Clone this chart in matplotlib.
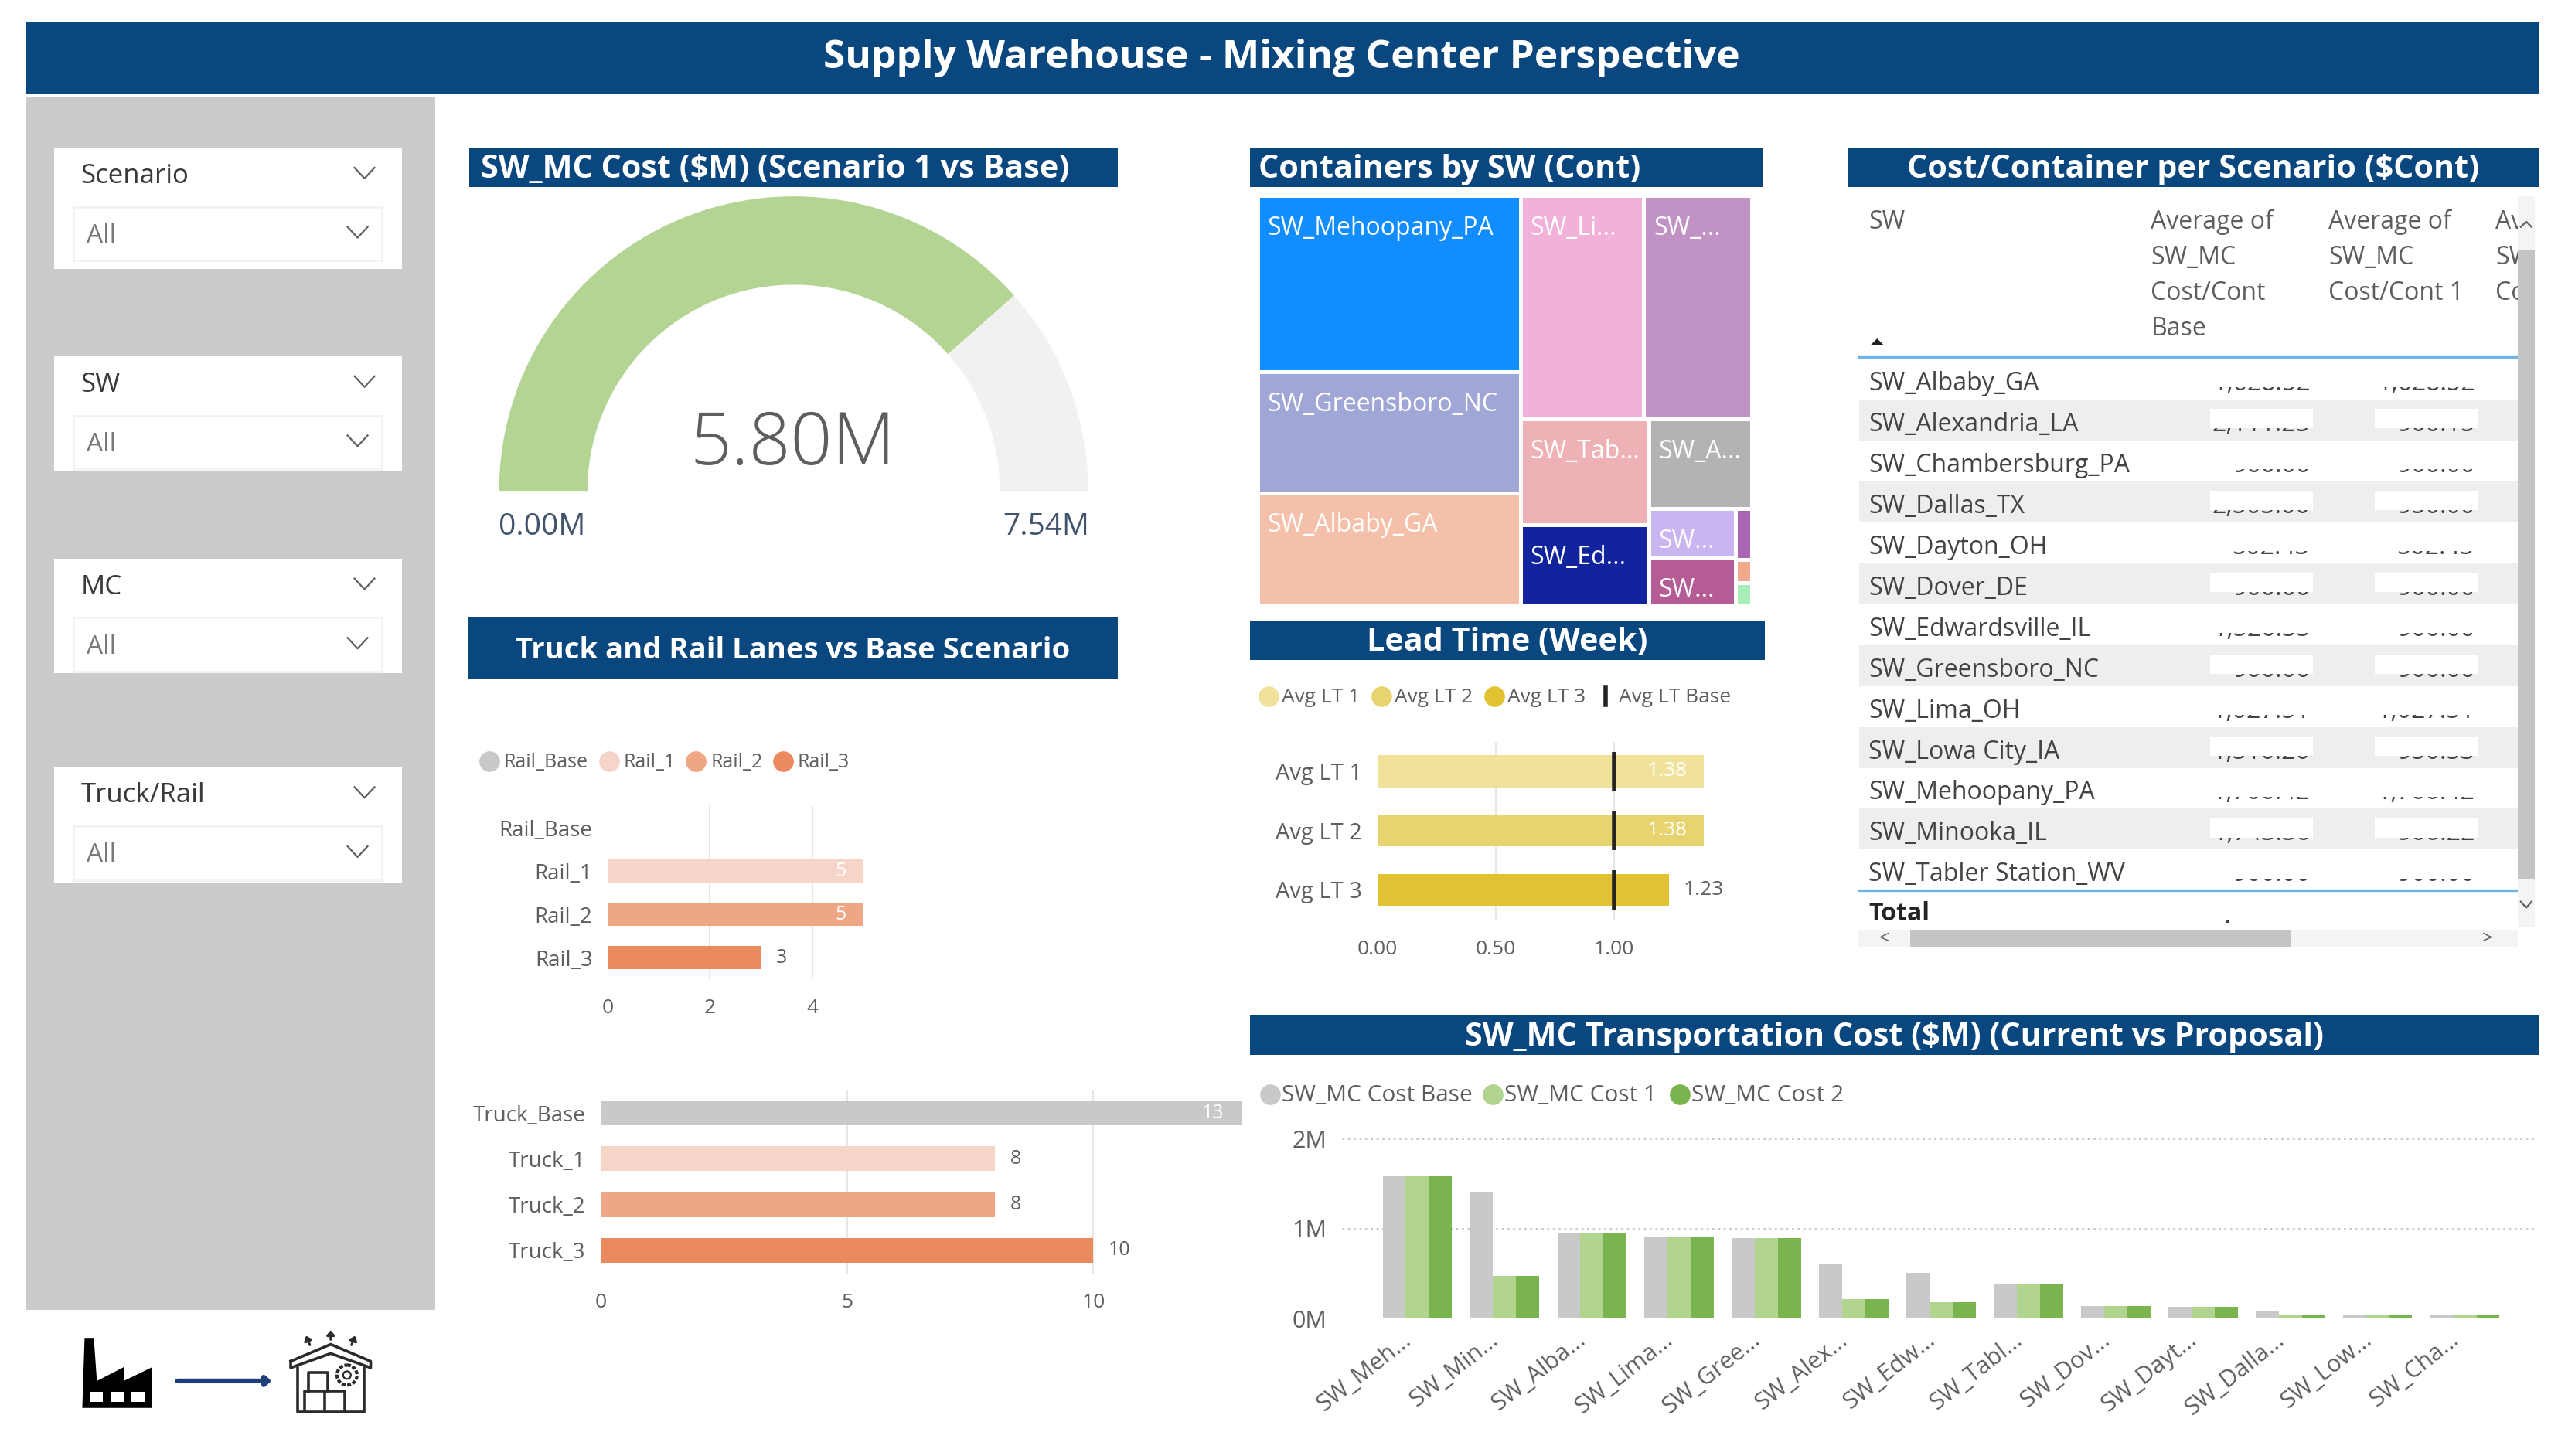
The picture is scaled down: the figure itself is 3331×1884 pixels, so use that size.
#!/usr/bin/env python3
import matplotlib
matplotlib.use("Agg")
import matplotlib.pyplot as plt
from matplotlib.patches import Rectangle, Polygon, Circle

plt.rcParams['font.family'] = ['Open Sans', 'DejaVu Sans']

W, H = 3331, 1884
# layout below was measured on a slightly smaller view of the reference
VW, VH = W / 0.9948, H / 0.9955

# gauge
gauge_value = 5.80
gauge_max = 7.54

# rail / truck lanes
rail_labels = ["Rail_Base", "Rail_1", "Rail_2", "Rail_3"]
rail_values = [0, 5, 5, 3]
truck_labels = ["Truck_Base", "Truck_1", "Truck_2", "Truck_3"]
truck_values = [13, 8, 8, 10]

# lead time
lt_labels = ["Avg LT 1", "Avg LT 2", "Avg LT 3"]
lt_values = [1.38, 1.38, 1.23]
lt_base = 1.0

# treemap, sorted by size
tree_values = [731, 503, 470, 436, 380, 214, 165, 146, 67, 66, 13, 6, 6]
tree_labels = ["SW_Mehoopany_PA", "SW_Greensboro_NC", "SW_Albaby_GA", "SW_Li...", "SW_...",
               "SW_Tab...", "SW_Ed...", "SW_A...", "SW...", "SW...", "", "", ""]
tree_colors = ["#118DFF", "#A0A6D6", "#F4C0AA", "#F2B1D9", "#C093C4", "#EEB1B5", "#12239E",
               "#B3B3B6", "#C9B5EF", "#B55B96", "#A866B0", "#F4A98E", "#A9EDB8"]
tree_strips = [3, 2, 2, 1, 2, 1, 1, 1]

# table
table_sw = ["SW_Albaby_GA", "SW_Alexandria_LA", "SW_Chambersburg_PA", "SW_Dallas_TX", "SW_Dayton_OH",
            "SW_Dover_DE", "SW_Edwardsville_IL", "SW_Greensboro_NC", "SW_Lima_OH", "SW_Lowa City_IA",
            "SW_Mehoopany_PA", "SW_Minooka_IL", "SW_Tabler Station_WV"]
table_base = ["1,628.52", "2,111.23", "900.00", "2,505.00", "502.43", "900.00", "1,520.35",
              "900.00", "1,027.51", "1,510.20", "1,700.42", "1,743.36", "900.00"]
table_cost1 = ["1,628.52", "900.15", "900.00", "950.00", "502.43", "900.00", "900.00",
               "900.00", "1,027.51", "950.53", "1,700.42", "900.22", "900.00"]
total_base = "1,200.41"
total_cost1 = "955.17"

# transport cost, $M
cost_labels = ["SW_Meh...", "SW_Min...", "SW_Alba...", "SW_Lima...", "SW_Gree...", "SW_Alex...", "SW_Edw...",
               "SW_Tabl...", "SW_Dov...", "SW_Dayt...", "SW_Dalla...", "SW_Low...", "SW_Cha..."]
cost_base = [1.58, 1.41, 0.945, 0.908, 0.896, 0.61, 0.513, 0.39, 0.136, 0.13, 0.088, 0.04, 0.04]
cost_1 = [1.58, 0.477, 0.945, 0.908, 0.896, 0.213, 0.179, 0.39, 0.136, 0.13, 0.043, 0.04, 0.04]
cost_2 = [1.58, 0.477, 0.945, 0.908, 0.896, 0.213, 0.179, 0.39, 0.136, 0.13, 0.043, 0.04, 0.04]

slicers = ["Scenario", "SW", "MC", "Truck/Rail"]

NAVY = "#0A477F"
GREY = "#CBCBCB"
TXT = "#605E5C"
ORANGES = ["#C9C9C9", "#F6D5C8", "#EFA685", "#EB895F"]
YELLOWS = ["#F1E29B", "#E8D46E", "#E1C233"]
GREENS = ["#C9C9C9", "#B1D48F", "#7AB44E"]

fig = plt.figure(figsize=(W / 100, H / 100), dpi=100)
bg = fig.add_axes([0, 0, 1, 1])
bg.set_xlim(0, VW)
bg.set_ylim(VH, 0)
bg.axis("off")


def box(x0, y0, x1, y1, color, ec="none", lw=0, z=1):
    bg.add_patch(Rectangle((x0, y0), x1 - x0, y1 - y0, fc=color, ec=ec, lw=lw, zorder=z))


def label(x, y, s, size, color=TXT, ha="left", weight="normal", z=3, **kw):
    return bg.text(x, y, s, fontsize=size, color=color, ha=ha, va="center", fontweight=weight, zorder=z, **kw)


def px_axes(x0, y0, x1, y1):
    ax = fig.add_axes([x0 / VW, 1 - y1 / VH, (x1 - x0) / VW, (y1 - y0) / VH])
    ax.patch.set_alpha(0)
    return ax


def header(x0, y0, x1, y1, s, size=29.7, left=None):
    box(x0, y0, x1, y1, NAVY)
    if left is None:
        label((x0 + x1) / 2, (y0 + y1) / 2 + 3, s, size, "white", "center", "bold")
    else:
        label(left, (y0 + y1) / 2 + 3, s, size, "white", "left", "bold")


def chevron(x, y, c="#605E5C"):
    bg.plot([x - 13, x, x + 13], [y - 7, y + 7, y - 7], color=c, lw=1.6, zorder=3)


def legend_row(y, items, size):
    for cx, tx, s, c in items:
        if c == "bar":
            bg.plot([cx, cx], [y - 11, y + 11], color="#252423", lw=4, zorder=3)
        else:
            bg.scatter([cx], [y], s=370, color=c, zorder=3, lw=0)
        label(tx, y + 2, s, size)


def hbars(rect, labels, values, colors, xmax, xticks, pad, size=20, tick=19, fmt="{:g}", white_over=None, height=0.54):
    ax = px_axes(*rect)
    rows = range(len(labels))
    ax.barh(rows, values, height=height, color=colors, zorder=2)
    ax.set_ylim(len(labels) - 0.5, -0.5)
    ax.set_xlim(0, xmax)
    ax.set_xticks(xticks)
    ax.set_xticklabels([fmt.format(t) for t in xticks])
    ax.set_yticks(list(rows))
    ax.set_yticklabels(labels)
    ax.tick_params(length=0, labelcolor=TXT)
    ax.tick_params(axis="x", pad=pad, labelsize=tick)
    ax.tick_params(axis="y", pad=14, labelsize=size)
    ax.grid(axis="x", color="#E6E6E6", lw=1.6, zorder=1)
    for s in ax.spines.values():
        s.set_visible(False)
    for i, v in enumerate(values):
        if v == 0:
            continue
        if white_over is not None and v >= white_over:
            ax.annotate(fmt.format(v), (v, i), xytext=(-16, 0), textcoords="offset points", ha="right",
                        va="center", color="white", fontsize=size - 2, zorder=3)
        else:
            ax.annotate(fmt.format(v), (v, i), xytext=(14, 0), textcoords="offset points", ha="left",
                        va="center", color=TXT, fontsize=size - 2, zorder=3)
    return ax


def strip_layout(vals, strips, x, y, w, h):
    # slice-and-dice along the shorter side, one strip at a time
    scale = w * h / sum(vals)
    areas = [v * scale for v in vals]
    out = []
    i = 0
    for n in strips:
        row = areas[i:i + n]
        side = min(w, h)
        thick = sum(row) / side
        pos = 0
        for a in row:
            if w >= h:
                out.append((x, y + pos, thick, a / thick))
            else:
                out.append((x + pos, y, a / thick, thick))
            pos += a / thick
        if w >= h:
            x += thick
            w -= thick
        else:
            y += thick
            h -= thick
        i += n
    return out


# --- banner and slicer panel ---
box(34, 29, 3301, 122, NAVY)
label(1667, 75, "Supply Warehouse - Mixing Center Perspective", 37, "white", "center", "bold")
box(34, 126, 566, 1703, GREY)

cards = [(192, 350), (463, 613), (726, 875), (997, 1147)]
for name, (y0, y1) in zip(slicers, cards):
    box(70, y0, 523, y1, "white")
    box(95, y0 + 77, 497, y0 + 147, "white", ec="#F2F2F2", lw=2)
    label(105, y0 + 37, name, 25, "#3B3A39")
    chevron(474, y0 + 33)
    label(113, y0 + 115, "All", 24, "#7A7876")
    chevron(465, y0 + 110)

# --- gauge ---
header(610, 192, 1454, 243, "SW_MC Cost ($M) (Scenario 1 vs Base)", left=625)
gax = px_axes(649, 255, 1415, 1021)
gax.pie([gauge_value, gauge_max - gauge_value, gauge_max], colors=["#B3D493", "#F1F1F0", "none"],
        startangle=180, counterclock=False, radius=1.0, wedgeprops=dict(width=0.30, lw=0))
gax.set_xlim(-1, 1)
gax.set_ylim(-1, 1)
label(1031, 579, f"{gauge_value:.2f}M", 68, TXT, "center", "light", z=5)
label(705, 685, f"{0:.2f}M", 28, "#41546B", "center")
label(1360, 685, f"{gauge_max:.2f}M", 28, "#41546B", "center")

# --- rail and truck ---
header(608, 803, 1454, 882, "Truck and Rail Lanes vs Base Scenario", size=27.5)
legend_row(989, [(636, 655, "Rail_Base", ORANGES[0]), (792, 811, "Rail_1", ORANGES[1]),
                 (905, 924, "Rail_2", ORANGES[2]), (1018, 1037, "Rail_3", ORANGES[3])], 18)
hbars((790, 1048, 1123, 1273), rail_labels, rail_values, ORANGES, 5, [0, 2, 4], 18, white_over=5)
hbars((781, 1417, 1614, 1655), truck_labels, truck_values, ORANGES, 13, [0, 5, 10], 18, white_over=13)

# --- treemap ---
header(1625, 192, 2293, 243, "Containers by SW (Cont)", left=1637)
tax = px_axes(1636, 255, 2278, 788)
tax.set_xlim(0, 642)
tax.set_ylim(533, 0)
tax.axis("off")
for (x, y, w, h), s, c in zip(strip_layout(tree_values, tree_strips, 0, 0, 642, 533), tree_labels, tree_colors):
    tax.add_patch(Rectangle((x + 2.5, y + 2.5), w - 5, h - 5, fc=c, lw=0))
    tax.text(x + 12, y + 42, s, fontsize=23, color="white", va="center", clip_on=True)

# --- lead time ---
header(1625, 807, 2295, 858, "Lead Time (Week)")
legend_row(905, [(1650, 1667, "Avg LT 1", YELLOWS[0]), (1796, 1813, "Avg LT 2", YELLOWS[1]),
                 (1943, 1960, "Avg LT 3", YELLOWS[2]), (2088, 2105, "Avg LT Base", "bar")], 19)
lax = hbars((1791, 964, 2216, 1195), lt_labels, lt_values, YELLOWS, 1.38, [0, 0.5, 1.0], 19, size=21, fmt="{:.2f}",
            white_over=1.3)
for i in range(len(lt_labels)):
    lax.vlines(lt_base, i - 0.33, i + 0.33, color="#252423", lw=4, zorder=4)

# --- table ---
header(2402, 192, 3301, 243, "Cost/Container per Scenario ($Cont)")
label(2430, 289, "SW", 23)
clip = Rectangle((2400, 250), 3274 - 2400, 230, transform=bg.transData)
for x, lines in [(2797, ["Average of", "SW_MC", "Cost/Cont", "Base"]),
                 (3028, ["Average of", "SW_MC", "Cost/Cont 1"]),
                 (3245, ["Average of", "SW_MC", "Cost/Cont 2"])]:
    for k, s in enumerate(lines):
        t = label(x, 289 + k * 46, s, 23)
        t.set_clip_path(clip)
        t.set_clip_on(True)
bg.add_patch(Polygon([(2432, 449), (2450, 449), (2441, 440)], fc="#252423", zorder=3))

row_top, row_h = 466, 53.2
for i, s in enumerate(table_sw):
    yc = row_top + row_h * (i + 0.5) + 6
    if i % 2 == 1:
        box(2418, row_top + row_h * i, 3274, row_top + row_h * (i + 1), "#EEEEEE")
    label(2430, yc, s, 23, "#444342")
    for xr, v in [(3004, table_base[i]), (3218, table_cost1[i])]:
        label(xr, yc, v, 23, "#444342", "right")
        # figures are whited out in the source picture
        box(xr - 130, yc - 20, xr + 4, yc + 5, "white", z=4)
bg.plot([2418, 3274], [464, 464], color="#6CB4EE", lw=2.4, zorder=5)
bg.plot([2418, 3274], [1157, 1157], color="#6CB4EE", lw=2.4, zorder=5)
label(2430, 1188, "Total", 23, "#252423", weight="bold")
for xr, v in [(3004, total_base), (3218, total_cost1)]:
    label(xr, 1188, v, 23, "#444342", "right", weight="bold")
    box(xr - 135, 1171, xr + 4, 1195, "white", z=4)
    box(xr - 135, 1199, xr + 4, 1208, "white", z=4)

box(3274, 255, 3296, 1204, "#F4F4F4", z=6)
box(3274, 325, 3296, 1142, "#C4C4C4", z=6)
bg.plot([3278, 3285, 3292], [295, 288, 295], color="#605E5C", lw=1.6, zorder=7)
bg.plot([3278, 3285, 3292], [1172, 1180, 1172], color="#605E5C", lw=1.6, zorder=7)
box(2416, 1209, 3274, 1232, "#F4F4F4", z=6)
box(2484, 1209, 2978, 1232, "#C4C4C4", z=6)
label(2450, 1220, "<", 17, "#605E5C", "center", z=7)
label(3234, 1220, ">", 17, "#605E5C", "center", z=7)

# --- transport cost ---
header(1625, 1320, 3301, 1371, "SW_MC Transportation Cost ($M) (Current vs Proposal)")
legend_row(1422, [(1652, 1667, "SW_MC Cost Base", GREENS[0]), (1941, 1956, "SW_MC Cost 1", GREENS[1]),
                  (2184, 2199, "SW_MC Cost 2", GREENS[2])], 21.5)
cax = px_axes(1745, 1480, 3295, 1714)
xs = list(range(len(cost_labels)))
bw = 0.264
for off, vals, c in zip((-bw, 0, bw), (cost_base, cost_1, cost_2), GREENS):
    cax.bar([x + off for x in xs], vals, width=bw, color=c, zorder=2)
cax.set_xlim(-0.863, 12.79)
cax.set_ylim(0, 2)
cax.set_yticks([0, 1, 2])
cax.set_yticklabels(["0M", "1M", "2M"])
cax.set_xticks([x - 0.18 for x in xs])
cax.set_xticklabels(cost_labels, rotation=38, ha="right", rotation_mode="anchor")
cax.tick_params(length=0, labelcolor=TXT)
cax.tick_params(axis="x", pad=9, labelsize=22)
cax.tick_params(axis="y", pad=14, labelsize=22)
cax.grid(axis="y", color="#C8C8C8", ls=":", lw=2, zorder=1)
for s in cax.spines.values():
    s.set_visible(False)

# --- icons ---
ICON_Y = 5
def fy(y):
    return y + ICON_Y

bg.add_patch(Polygon([(107, fy(1825)), (110, fy(1734)), (122, fy(1734)), (126, fy(1790)), (161, fy(1772)),
                      (161, fy(1790)), (198, fy(1772)), (198, fy(1825))], fc="black", lw=0, zorder=3))
for x0, x1 in [(117, 134), (144, 161), (171, 188)]:
    box(x0, fy(1804), x1, fy(1817), "white", z=4)
bg.annotate("", xy=(356, fy(1790)), xytext=(228, fy(1790)), zorder=3,
            arrowprops=dict(arrowstyle="-|>,head_width=0.35,head_length=0.4", color="#1F3D7A", lw=4.5))


def wh(x, y):
    return (x / 2.5, y / 2.95 + 1600 + ICON_Y)


def outline(pts, closed=False, lw=2.6):
    p = [wh(*q) for q in pts]
    if closed:
        p.append(p[0])
    bg.plot([q[0] for q in p], [q[1] for q in p], color="#2B2B2B", lw=lw, zorder=3, solid_joinstyle="round")


outline([(945, 485), (1075, 420), (1205, 485), (1205, 510), (1075, 455), (945, 510)], closed=True)
outline([(968, 510), (968, 680), (1183, 680), (1183, 510)])
outline([(1003, 600), (1003, 527), (1065, 527), (1065, 600)])
outline([(990, 680), (990, 600), (1120, 600), (1120, 680)])
outline([(1055, 600), (1055, 680)])
for (x0, y0), (x1, y1) in [((1010, 430), (992, 380)), ((1075, 410), (1075, 358)), ((1140, 430), (1157, 380))]:
    a, b = wh(x0, y0), wh(x1, y1)
    bg.annotate("", xy=b, xytext=a, zorder=3,
                arrowprops=dict(arrowstyle="-|>,head_width=0.3,head_length=0.35", color="#2B2B2B", lw=2.2))
cx, cy = wh(1128, 538)
bg.add_patch(Circle((cx, cy), 13, fc="none", ec="#2B2B2B", lw=3, ls=(0, (1.2, 0.5)), zorder=3))
bg.add_patch(Circle((cx, cy), 5, fc="none", ec="#2B2B2B", lw=1.6, zorder=3))

fig.savefig("out.png", dpi=100)
